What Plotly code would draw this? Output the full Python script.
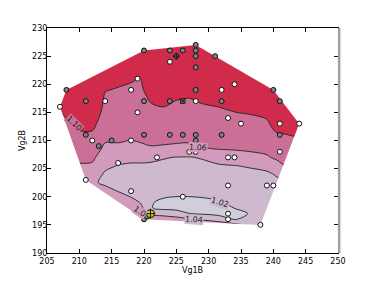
import plotly.graph_objects as go

# ---------------- data ----------------
grid_x = [205, 207.5, 210, 212, 214, 216, 218, 219.5, 221, 223, 225, 227, 229,
          231.5, 234, 236.5, 239, 240.5, 242, 243.5, 245]
grid_y = [194, 195, 196, 197, 198, 199, 200, 201, 202.5, 204, 205.5, 207, 208.5,
          210, 211.5, 213, 214.5, 216, 217.5, 219, 220.5, 222, 224, 227, 230]
grid_z = [
    [1.045, 1.045, 1.045, 1.045, 1.055, 1.055, 1.055, 1.055, 1.055, 1.055, 1.055, 1.055, 1.055, 1.055, 1.055, 1.055, 1.05, 1.05, 1.05, 1.05, 1.05],
    [1.045, 1.045, 1.045, 1.045, 1.055, 1.055, 1.055, 1.055, 1.055, 1.055, 1.055, 1.055, 1.055, 1.054, 1.046, 1.035, 1.035, 1.035, 1.035, 1.036, 1.036],
    [1.045, 1.045, 1.045, 1.045, 1.055, 1.055, 1.055, 1.055, 1.055, 1.052, 1.048, 1.042, 1.0375, 1.03, 1.0189, 1.025, 1.027, 1.028, 1.029, 1.03, 1.03],
    [1.045, 1.045, 1.045, 1.045, 1.055, 1.055, 1.055, 1.055, 1.036, 1.032, 1.028, 1.0202, 1.018, 1.0152, 1.0116, 1.022, 1.025, 1.027, 1.028, 1.029, 1.029],
    [1.045, 1.045, 1.045, 1.045, 1.055, 1.055, 1.055, 1.046, 1.021, 1.0156, 1.0154, 1.0133, 1.0113, 1.0117, 1.0205, 1.023, 1.026, 1.028, 1.029, 1.03, 1.03],
    [1.045, 1.045, 1.045, 1.045, 1.055, 1.055, 1.052, 1.0383, 1.0219, 1.0156, 1.0123, 1.0133, 1.0153, 1.0186, 1.023, 1.025, 1.027, 1.029, 1.03, 1.031, 1.031],
    [1.045, 1.045, 1.045, 1.045, 1.055, 1.054, 1.0388, 1.0358, 1.0243, 1.0216, 1.0199, 1.0199, 1.0208, 1.0223, 1.0256, 1.027, 1.029, 1.031, 1.032, 1.033, 1.033],
    [1.045, 1.045, 1.045, 1.045, 1.052, 1.0388, 1.0358, 1.0333, 1.0267, 1.0243, 1.0228, 1.0227, 1.0236, 1.0251, 1.0281, 1.029, 1.031, 1.033, 1.035, 1.036, 1.036],
    [1.0464, 1.0464, 1.0464, 1.0456, 1.0336, 1.0328, 1.0312, 1.0304, 1.0302, 1.0283, 1.0269, 1.0268, 1.0278, 1.0294, 1.0319, 1.032, 1.034, 1.036, 1.039, 1.0433, 1.0433],
    [1.0524, 1.0524, 1.0524, 1.0516, 1.0371, 1.0332, 1.0333, 1.0341, 1.0338, 1.0323, 1.0311, 1.031, 1.0319, 1.0337, 1.0357, 1.0355, 1.037, 1.0416, 1.0507, 1.0533, 1.0533],
    [1.0584, 1.0584, 1.0584, 1.0576, 1.0444, 1.0392, 1.0379, 1.0378, 1.0374, 1.0363, 1.0353, 1.0351, 1.0361, 1.038, 1.0395, 1.0417, 1.0452, 1.0536, 1.0607, 1.0617, 1.0618],
    [1.0619, 1.0625, 1.0637, 1.0632, 1.0504, 1.0474, 1.0441, 1.0444, 1.0438, 1.0411, 1.0394, 1.0392, 1.0412, 1.0476, 1.0513, 1.0548, 1.0583, 1.0627, 1.0658, 1.0669, 1.0671],
    [1.0645, 1.0659, 1.0687, 1.0684, 1.0564, 1.056, 1.0518, 1.0556, 1.0581, 1.0568, 1.0553, 1.0541, 1.0588, 1.0605, 1.0614, 1.0625, 1.0638, 1.0686, 1.0708, 1.0721, 1.0724],
    [1.0671, 1.0693, 1.0737, 1.0737, 1.0613, 1.0615, 1.0595, 1.0615, 1.0631, 1.0633, 1.0626, 1.0623, 1.0634, 1.0644, 1.0655, 1.0668, 1.0682, 1.0745, 1.0759, 1.0772, 1.0776],
    [1.0697, 1.0727, 1.0787, 1.0789, 1.0645, 1.0643, 1.0627, 1.0639, 1.0667, 1.0675, 1.0662, 1.0658, 1.0671, 1.0683, 1.0696, 1.071, 1.0726, 1.0805, 1.0815, 1.0835, 1.085],
    [1.0722, 1.0761, 1.0855, 1.086, 1.0677, 1.0672, 1.0656, 1.0663, 1.0704, 1.0717, 1.0698, 1.0693, 1.0707, 1.0722, 1.0737, 1.0752, 1.0771, 1.088, 1.089, 1.091, 1.0925],
    [1.0748, 1.0795, 1.093, 1.0935, 1.0709, 1.07, 1.0685, 1.0688, 1.074, 1.0758, 1.0733, 1.0728, 1.0744, 1.0761, 1.0778, 1.0794, 1.0825, 1.0955, 1.0965, 1.0985, 1.10],
    [1.0774, 1.0865, 1.10, 1.10, 1.074, 1.0728, 1.0715, 1.0712, 1.0776, 1.0801, 1.0769, 1.0763, 1.078, 1.0801, 1.0835, 1.0865, 1.09, 1.10, 1.10, 1.10, 1.10],
    [1.0801, 1.094, 1.10, 1.10, 1.0772, 1.0757, 1.0744, 1.0737, 1.0825, 1.0875, 1.081, 1.0798, 1.0835, 1.0875, 1.091, 1.094, 1.0975, 1.10, 1.10, 1.10, 1.10],
    [1.0875, 1.10, 1.10, 1.10, 1.081, 1.0785, 1.0773, 1.0761, 1.09, 1.095, 1.0885, 1.087, 1.091, 1.095, 1.0985, 1.10, 1.10, 1.10, 1.10, 1.10, 1.10],
    [1.095, 1.10, 1.10, 1.10, 1.0885, 1.0835, 1.0805, 1.0785, 1.0975, 1.10, 1.096, 1.0945, 1.0985, 1.10, 1.10, 1.10, 1.10, 1.10, 1.10, 1.10, 1.10],
    [1.10, 1.10, 1.10, 1.10, 1.096, 1.091, 1.088, 1.083, 1.10, 1.10, 1.10, 1.10, 1.10, 1.10, 1.10, 1.10, 1.10, 1.10, 1.10, 1.10, 1.10],
    [1.10, 1.10, 1.10, 1.10, 1.10, 1.10, 1.098, 1.093, 1.10, 1.10, 1.10, 1.10, 1.10, 1.10, 1.10, 1.10, 1.10, 1.10, 1.10, 1.10, 1.10],
    [1.10] * 21,
    [1.10] * 21,
]

# measurement points (open = white fill, dark = grey fill)
white_x = [224, 234, 232, 228, 218, 219, 214, 207, 219, 233, 235, 241, 244, 212, 218,
           227, 228, 233, 234, 241, 222, 216, 211, 218, 233, 239, 240, 226, 233, 233, 238]
white_y = [224, 220, 219, 217, 219, 221, 217, 216, 215, 214, 213, 213, 213, 210, 210,
           208, 208, 207, 207, 208, 207, 206, 203, 201, 202, 202, 202, 200, 197, 196, 195]
gray_x = [220, 224, 226, 228, 228, 225, 228, 231, 228, 228, 240, 208, 211, 220, 224, 226,
          232, 241, 211, 213, 215, 220, 224, 226, 228, 232, 241, 228, 220, 220.5]
gray_y = [226, 226, 226, 226, 227, 225, 225, 225, 223, 219, 219, 219, 217, 217, 217, 217,
          217, 217, 211, 209, 210, 211, 211, 211, 211, 211, 211, 210, 196, 196.5]
ref_x, ref_y = [221], [197]
xmark_x, xmark_y = [226], [217]
plus_x, plus_y = [225], [225]

contour_start, contour_end, contour_step = 1.02, 1.08, 0.02
band_colors = ['#d0ceda', '#cfb9cf', '#d29bbb', '#cc6f96', '#d12b4b']

label_text = ['1.10', '1.06', '1.02', '1.04', '1.0']
label_x = [209.2, 228.3, 231.7, 227.7, 219.3]
label_y = [213.0, 208.7, 199.0, 196.0, 197.3]
label_angle = [44, 4, 17, 4, 35]
label_bg = ['#cc6f96', '#d29bbb', '#cfb9cf', '#cfb9cf', '#d29bbb']

xticks = [205, 210, 215, 220, 225, 230, 235, 240, 245, 250]
yticks = [190, 195, 200, 205, 210, 215, 220, 225, 230]


# ---------------- convex hull of the measurement points ----------------
def convex_hull(points):
    pts = sorted(set(points))

    def cross(o, a, b):
        return (a[0] - o[0]) * (b[1] - o[1]) - (a[1] - o[1]) * (b[0] - o[0])

    lower, upper = [], []
    for p in pts:
        while len(lower) >= 2 and cross(lower[-2], lower[-1], p) <= 0:
            lower.pop()
        lower.append(p)
    for p in reversed(pts):
        while len(upper) >= 2 and cross(upper[-2], upper[-1], p) <= 0:
            upper.pop()
        upper.append(p)
    return lower[:-1] + upper[:-1]  # counter-clockwise


all_pts = list(zip(white_x + gray_x + ref_x, white_y + gray_y + ref_y))
hull = convex_hull(all_pts)[::-1]  # clockwise
rect = [(195, 185), (260, 185), (260, 235), (195, 235), (195, 185)]
mask_pts = rect + hull + [hull[0], rect[0]]

cscale = [[i / (len(band_colors) - 1), c] for i, c in enumerate(band_colors)]

fig = go.Figure()
fig.add_trace(go.Contour(
    x=grid_x, y=grid_y, z=grid_z,
    autocontour=False,
    contours=dict(start=contour_start, end=contour_end, size=contour_step,
                  coloring='fill', showlines=True),
    colorscale=cscale, showscale=False,
    line=dict(color='#222222', width=0.9, smoothing=1),
    hoverinfo='skip',
))
fig.add_trace(go.Scatter(
    x=[p[0] for p in mask_pts], y=[p[1] for p in mask_pts],
    mode='lines', fill='toself', fillcolor='white',
    line=dict(width=0, color='white', simplify=False),
    hoverinfo='skip',
))
fig.add_trace(go.Scatter(
    x=gray_x, y=gray_y, mode='markers',
    marker=dict(size=5, color='#808080', line=dict(color='#111111', width=1)),
    hoverinfo='skip',
))
fig.add_trace(go.Scatter(
    x=white_x, y=white_y, mode='markers',
    marker=dict(size=5, color='white', line=dict(color='#111111', width=1)),
    hoverinfo='skip',
))
fig.add_trace(go.Scatter(
    x=xmark_x, y=xmark_y, mode='markers',
    marker=dict(size=5, symbol='x-thin-open', color='#111111',
                line=dict(color='#111111', width=1)),
    hoverinfo='skip',
))
fig.add_trace(go.Scatter(
    x=plus_x, y=plus_y, mode='markers',
    marker=dict(size=5, symbol='cross-thin-open', color='#111111',
                line=dict(color='#111111', width=1)),
    hoverinfo='skip',
))
fig.add_trace(go.Scatter(
    x=ref_x, y=ref_y, mode='markers',
    marker=dict(size=8, color='#c4d21c', line=dict(color='#111111', width=1)),
    hoverinfo='skip',
))
fig.add_trace(go.Scatter(
    x=ref_x, y=ref_y, mode='markers',
    marker=dict(size=7, symbol='cross-thin-open', color='#111111',
                line=dict(color='#111111', width=1)),
    hoverinfo='skip',
))

for t, x, y, a, bg in zip(label_text, label_x, label_y, label_angle, label_bg):
    fig.add_annotation(x=x, y=y, text=t, textangle=a, showarrow=False,
                       font=dict(size=8, color='#222222', family='DejaVu Sans'),
                       bgcolor=bg, borderpad=0)

axis_common = dict(
    ticks='inside', ticklen=4, tickwidth=1, tickcolor='black',
    showline=True, linecolor='black', linewidth=1, mirror='ticks',
    showgrid=False, zeroline=False,
    tickfont=dict(family='DejaVu Sans', size=8, color='black'),
)
fig.update_xaxes(range=[205, 250], tickmode='array', tickvals=xticks,
                 title=dict(text='Vg1B', standoff=2,
                            font=dict(family='DejaVu Sans', size=8, color='black')),
                 **axis_common)
fig.update_yaxes(range=[190, 230], tickmode='array', tickvals=yticks,
                 ticklabelstandoff=-3,
                 title=dict(text='Vg2B', standoff=5,
                            font=dict(family='DejaVu Sans', size=8, color='black')),
                 **axis_common)

fig.add_shape(type='line', xref='paper', yref='paper', x0=1.004, x1=1.004, y0=0, y1=1,
              line=dict(color='#a0a0a0', width=2.5))

fig.update_layout(
    width=376, height=282,
    margin=dict(l=47, r=38, t=28, b=29, autoexpand=False),
    paper_bgcolor='white', plot_bgcolor='white',
    showlegend=False,
    font=dict(family='DejaVu Sans', size=8, color='black'),
)

fig.write_html('out.html', config={'displayModeBar': False},
               post_script="document.body.style.margin='0px';")
